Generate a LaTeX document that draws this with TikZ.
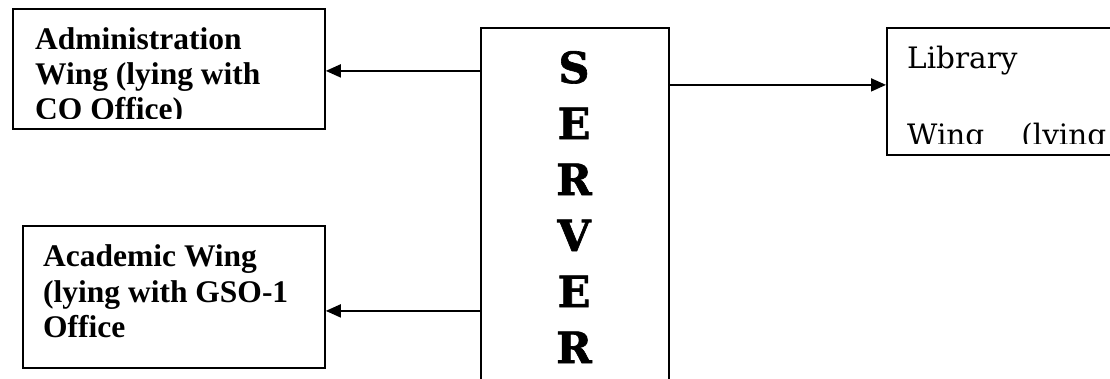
\documentclass[tikz,border=0pt]{standalone}
\usepackage{fontspec}
\setmainfont{Liberation Serif}
\newfontfamily\bookfont{DejaVu Serif}
\newfontfamily\srvfont{DejaVu Serif}[BoldFeatures={FakeBold=1.5}]
\usetikzlibrary{arrows.meta}
\tikzset{
  box/.style={draw, line width=1.8pt, inner sep=0pt, anchor=north west},
  arr/.style={line width=1.8pt, -{Triangle[length=15pt,width=13pt]}},
  wingtxt/.style={anchor=base west, inner sep=0pt, font=\fontsize{31.5}{35}\selectfont\bfseries},
  libtxt/.style={anchor=base west, inner sep=0pt, font=\bookfont\fontsize{29.5}{35}\selectfont},
  srvtxt/.style={anchor=base, inner sep=0pt, font=\srvfont\bfseries\fontsize{43}{56}\selectfont},
}
\begin{document}
\begin{tikzpicture}[x=1pt, y=-1pt]
\clip (0,0) rectangle (1110,378);
\fill[white] (0,0) rectangle (1110,378);
% boxes
\node[box, minimum width=312pt, minimum height=120pt] (admin) at (12,8) {};
\node[box, minimum width=302pt, minimum height=142pt] (acad) at (22,225) {};
\node[box, minimum width=188pt, minimum height=390pt] (server) at (480,27) {};
\node[box, minimum width=260pt, minimum height=127pt] (lib) at (886,27) {};
% admin text
\begin{scope}
\clip (admin.north west) rectangle (324,118.3);
\node[wingtxt] (a1) at (35,49.3) {Administration};
\node[wingtxt] (a2) at (35,84.3) {Wing (lying with};
\node[wingtxt] (a3) at (35,119.6) {CO Office)};
\end{scope}
% academic text
\node[wingtxt] (b1) at (43,266.7) {Academic Wing};
\node[wingtxt] (b2) at (43,302) {(lying with GSO-1};
\node[wingtxt] (b3) at (43,337.5) {Office};
% library text
\begin{scope}
\clip (lib.north west) rectangle (1110,143.5);
\node[libtxt] (l1) at (907,68.3) {Library};
\node[libtxt] (l2) at (907,145) {Wing\hspace{37pt}(lying};
\end{scope}
% server letters
\foreach \l [count=\i] in {S,E,R,V,E,R}
  \node[srvtxt] (s\i) at (574,{83+56*(\i-1)}) {\l};
% connectors
\draw[arr] ([yshift=-2pt]server.west |- admin.east) -- ([yshift=-2pt]admin.east);
\draw[arr] ([yshift=-14pt]server.west |- acad.east) -- ([yshift=-14pt]acad.east);
\draw[arr] ([yshift=6.5pt]server.east |- lib.west) -- ([yshift=6.5pt]lib.west);
\end{tikzpicture}
\end{document}
